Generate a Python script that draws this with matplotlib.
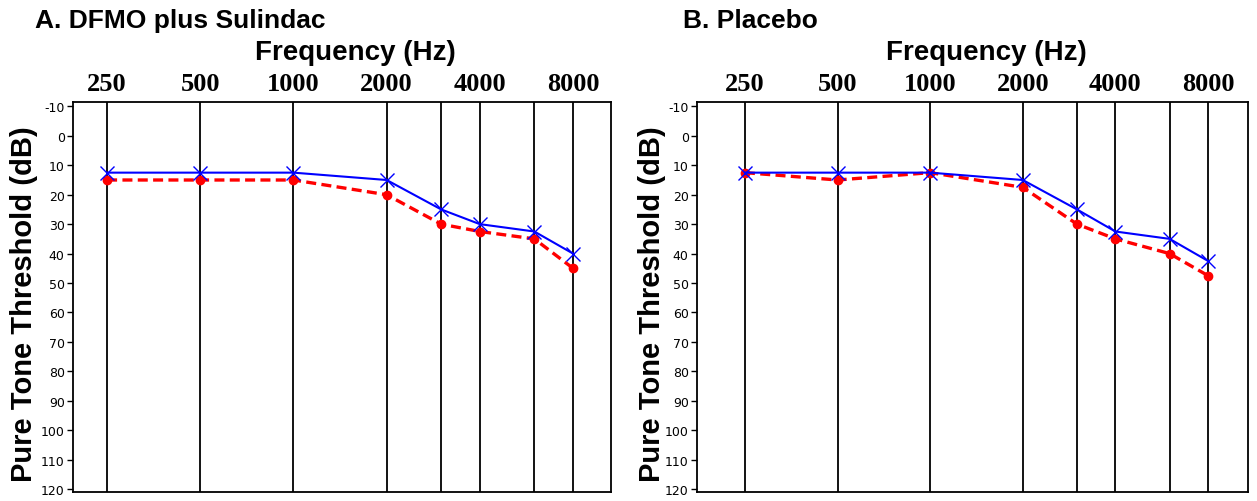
import matplotlib
matplotlib.use('Agg')
import matplotlib.pyplot as plt
import numpy as np

freqs = [250, 500, 1000, 2000, 3000, 4000, 6000, 8000]
top_labels = [250, 500, 1000, 2000, 4000, 8000]
y_ticks = [-10, 0, 10, 20, 30, 40, 50, 60, 70, 80, 90, 100, 110, 120]

# panel A: DFMO plus Sulindac
a_blue = [12.5, 12.5, 12.5, 15, 25, 30, 32.5, 40]
a_red = [15, 15, 15, 20, 30, 32.5, 35, 45]
# panel B: Placebo
b_blue = [12.5, 12.5, 12.5, 15, 25, 32.5, 35, 42.5]
b_red = [12.5, 15, 12.5, 17.5, 30, 35, 40, 47.5]

W, H = 1257, 502
fig = plt.figure(figsize=(W / 100, H / 100), dpi=100)


def px_axes(x0, y0, x1, y1):
    return fig.add_axes([x0 / W, 1 - y1 / H, (x1 - x0) / W, (y1 - y0) / H])


def panel(ax, blue, red, xlim):
    for f in freqs:
        ax.axvline(f, color='black', lw=1.3, zorder=1)
    ax.plot(freqs, red, color='red', ls='--', lw=2.4, marker='o', ms=6,
            dashes=(3, 1.6), zorder=3)
    ax.plot(freqs, blue, color='blue', lw=1.5, marker='x', ms=10, mew=1.0,
            zorder=4)
    ax.set_xscale('log')
    ax.set_xlim(xlim)
    ax.set_ylim(121, -11.5)
    ax.xaxis.tick_top()
    ax.set_xticks(top_labels)
    ax.set_xticklabels([str(t) for t in top_labels], fontsize=19,
                       fontweight='bold', family=['Liberation Serif', 'DejaVu Serif'])
    ax.xaxis.set_minor_locator(matplotlib.ticker.NullLocator())
    ax.tick_params(axis='x', length=0, pad=5)
    ax.set_yticks(y_ticks)
    ax.set_yticklabels([str(t) for t in y_ticks], fontsize=9,
                       family=['Liberation Sans Narrow', 'DejaVu Sans'])
    ax.tick_params(axis='y', length=4, width=1, pad=2)
    for s in ax.spines.values():
        s.set_linewidth(1.3)


axA = px_axes(73, 103, 611, 493)
panel(axA, a_blue, a_red, (194, 10610))
axB = px_axes(697, 103, 1248, 493)
panel(axB, b_blue, b_red, (174.6, 10790))

bold_sans = ['Liberation Sans', 'DejaVu Sans']
fig.text(35 / W, 1 - 21 / H, 'A. DFMO plus Sulindac', fontsize=19,
         fontweight='bold', family=bold_sans, va='center', ha='left')
fig.text(683 / W, 1 - 21 / H, 'B. Placebo', fontsize=19,
         fontweight='bold', family=bold_sans, va='center', ha='left')
fig.text(355 / W, 1 - 53 / H, 'Frequency (Hz)', fontsize=20,
         fontweight='bold', family=bold_sans, va='center', ha='center')
fig.text(986 / W, 1 - 53 / H, 'Frequency (Hz)', fontsize=20,
         fontweight='bold', family=bold_sans, va='center', ha='center')
fig.text(24 / W, 1 - 304 / H, 'Pure Tone Threshold (dB)', fontsize=21,
         fontweight='bold', family=bold_sans, va='center', ha='center',
         rotation=90)
fig.text(652 / W, 1 - 304 / H, 'Pure Tone Threshold (dB)', fontsize=21,
         fontweight='bold', family=bold_sans, va='center', ha='center',
         rotation=90)

plt.savefig('out.png', dpi=100)
